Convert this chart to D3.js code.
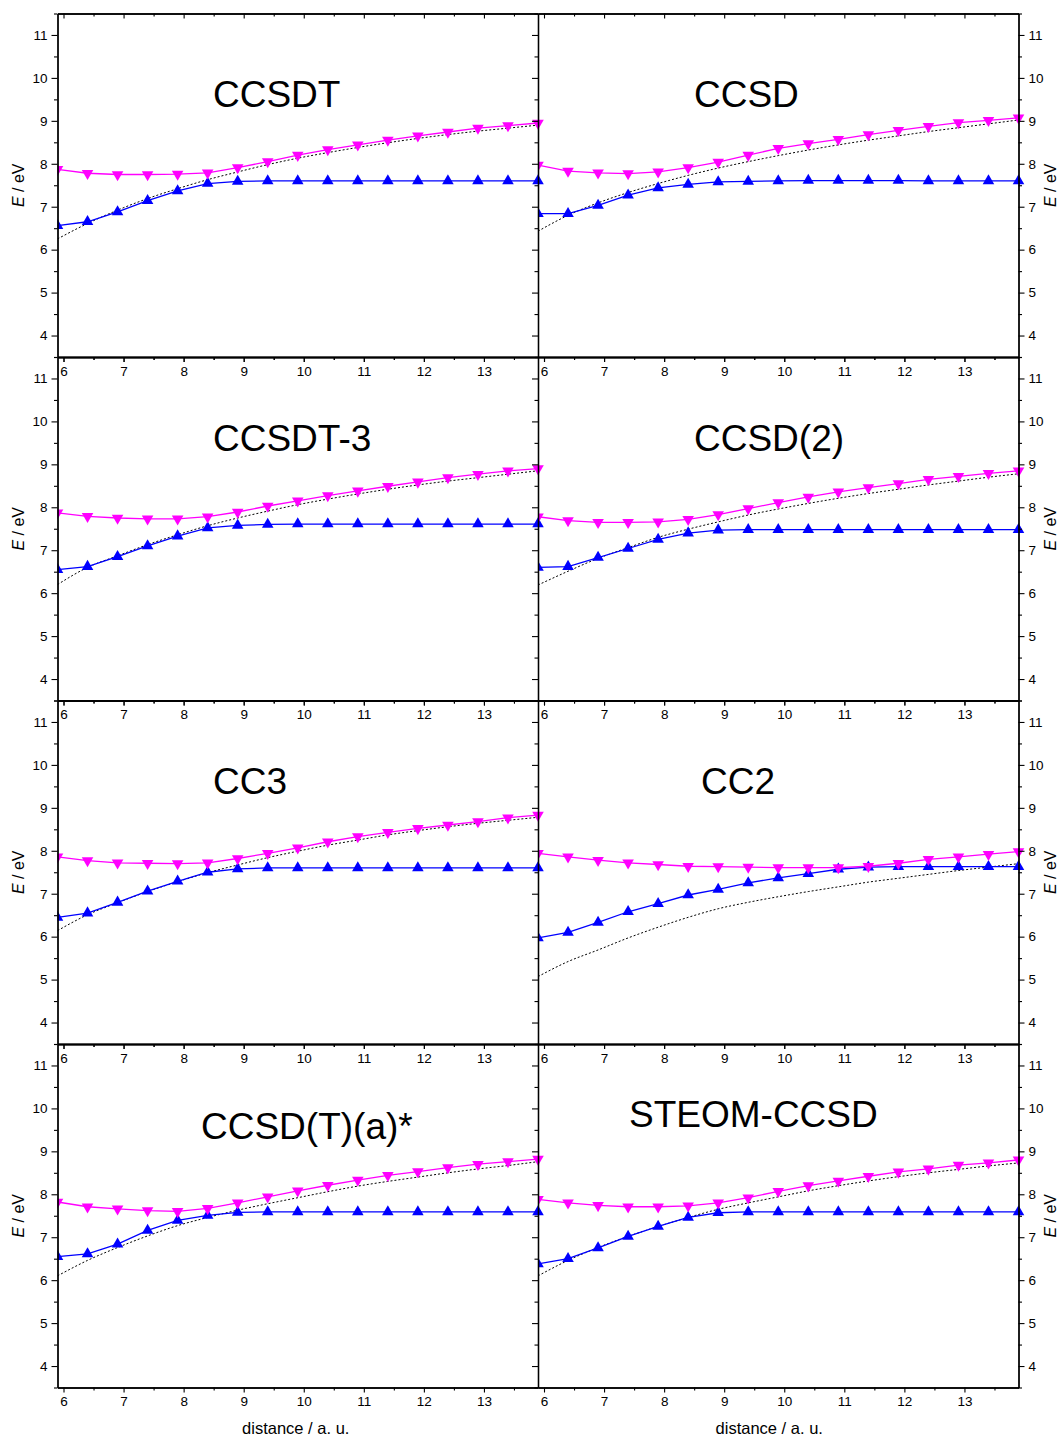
<!DOCTYPE html>
<html>
<head>
<meta charset="utf-8">
<script src="https://cdn.jsdelivr.net/npm/d3@7"></script>
<style>
  body { margin: 0; background: #fff; }
  svg { display: block; }
  text { font-family: "Liberation Sans", Arial, sans-serif; fill: #000; }
</style>
</head>
<body>
<svg id="chart" width="1059" height="1438"></svg>
<script>
// Intermolecular distance (a.u.) at which every method was evaluated
const distance = [5.9, 6.4, 6.9, 7.4, 7.9, 8.4, 8.9, 9.4, 9.9, 10.4, 10.9, 11.4, 11.9, 12.4, 12.9, 13.4, 13.9];

// Methods, one panel each (row-major, two columns)
const methods = ["CCSDT", "CCSD", "CCSDT-3", "CCSD(2)", "CC3", "CC2", "CCSD(T)(a)*", "STEOM-CCSD"];

// Local excitation (blue, ▲), eV
const localState = [
  [6.56, 6.65, 6.88, 7.14, 7.37, 7.54, 7.59, 7.60, 7.60, 7.60, 7.60, 7.60, 7.60, 7.60, 7.60, 7.60, 7.60],
  [6.84, 6.84, 7.03, 7.27, 7.44, 7.52, 7.58, 7.59, 7.60, 7.61, 7.61, 7.61, 7.61, 7.60, 7.60, 7.60, 7.60],
  [6.55, 6.62, 6.85, 7.10, 7.33, 7.52, 7.58, 7.60, 7.61, 7.61, 7.61, 7.61, 7.61, 7.61, 7.61, 7.61, 7.61],
  [6.60, 6.62, 6.83, 7.04, 7.25, 7.40, 7.47, 7.48, 7.48, 7.48, 7.48, 7.48, 7.48, 7.48, 7.48, 7.48, 7.48],
  [6.45, 6.55, 6.80, 7.06, 7.29, 7.50, 7.58, 7.60, 7.60, 7.60, 7.60, 7.60, 7.60, 7.60, 7.60, 7.60, 7.60],
  [5.97, 6.10, 6.33, 6.58, 6.77, 6.97, 7.10, 7.25, 7.37, 7.47, 7.57, 7.62, 7.63, 7.63, 7.63, 7.63, 7.63],
  [6.55, 6.61, 6.84, 7.16, 7.39, 7.51, 7.58, 7.59, 7.59, 7.59, 7.59, 7.59, 7.59, 7.59, 7.59, 7.59, 7.59],
  [6.38, 6.50, 6.75, 7.02, 7.25, 7.46, 7.57, 7.59, 7.59, 7.59, 7.59, 7.59, 7.59, 7.59, 7.59, 7.59, 7.59]
];

// Charge-transfer excitation (magenta, ▼), eV
const ctState = [
  [7.87, 7.78, 7.75, 7.75, 7.76, 7.79, 7.91, 8.05, 8.20, 8.33, 8.44, 8.55, 8.65, 8.74, 8.83, 8.89, 8.95],
  [7.97, 7.83, 7.79, 7.77, 7.81, 7.91, 8.04, 8.20, 8.36, 8.47, 8.57, 8.68, 8.78, 8.87, 8.96, 9.01, 9.07],
  [7.87, 7.79, 7.75, 7.73, 7.73, 7.78, 7.89, 8.03, 8.15, 8.27, 8.38, 8.49, 8.59, 8.69, 8.77, 8.85, 8.90],
  [7.78, 7.69, 7.65, 7.65, 7.66, 7.72, 7.83, 7.97, 8.11, 8.24, 8.36, 8.46, 8.55, 8.65, 8.72, 8.79, 8.85],
  [7.86, 7.77, 7.72, 7.71, 7.70, 7.72, 7.82, 7.94, 8.07, 8.21, 8.33, 8.43, 8.52, 8.60, 8.68, 8.77, 8.83],
  [7.94, 7.86, 7.78, 7.72, 7.68, 7.64, 7.63, 7.62, 7.61, 7.61, 7.61, 7.64, 7.71, 7.80, 7.86, 7.92, 7.98],
  [7.82, 7.71, 7.66, 7.62, 7.60, 7.67, 7.80, 7.94, 8.08, 8.21, 8.33, 8.44, 8.53, 8.62, 8.70, 8.76, 8.82],
  [7.88, 7.80, 7.74, 7.71, 7.71, 7.73, 7.80, 7.92, 8.07, 8.20, 8.31, 8.42, 8.52, 8.59, 8.68, 8.73, 8.80]
];

// Model charge-transfer curve (black dotted), eV
const ctModel = [
  [6.25, 6.61, 6.92, 7.19, 7.42, 7.63, 7.81, 7.98, 8.13, 8.26, 8.38, 8.49, 8.59, 8.68, 8.76, 8.83, 8.90],
  [6.43, 6.80, 7.09, 7.33, 7.54, 7.73, 7.90, 8.05, 8.19, 8.32, 8.44, 8.55, 8.65, 8.75, 8.84, 8.93, 9.02],
  [6.20, 6.60, 6.87, 7.13, 7.36, 7.57, 7.75, 7.91, 8.06, 8.19, 8.31, 8.42, 8.52, 8.61, 8.69, 8.77, 8.85],
  [6.19, 6.51, 6.81, 7.06, 7.30, 7.49, 7.66, 7.82, 7.96, 8.09, 8.21, 8.32, 8.42, 8.52, 8.61, 8.70, 8.78],
  [6.14, 6.51, 6.79, 7.05, 7.28, 7.49, 7.67, 7.84, 7.99, 8.13, 8.25, 8.37, 8.47, 8.56, 8.64, 8.71, 8.78],
  [5.07, 5.42, 5.69, 5.97, 6.22, 6.45, 6.65, 6.80, 6.93, 7.05, 7.16, 7.27, 7.36, 7.45, 7.54, 7.62, 7.70],
  [6.10, 6.46, 6.76, 7.03, 7.27, 7.46, 7.63, 7.78, 7.92, 8.06, 8.19, 8.30, 8.40, 8.50, 8.59, 8.67, 8.76],
  [6.10, 6.46, 6.76, 7.02, 7.25, 7.46, 7.65, 7.80, 7.94, 8.08, 8.20, 8.31, 8.41, 8.50, 8.58, 8.66, 8.73]
];

// Axis ticks
const xMajor = [6, 7, 8, 9, 10, 11, 12, 13];
const xMinor = [6.5, 7.5, 8.5, 9.5, 10.5, 11.5, 12.5, 13.5];
const yMajor = [4, 5, 6, 7, 8, 9, 10, 11];
const yMinor = [3.5, 4.5, 5.5, 6.5, 7.5, 8.5, 9.5, 10.5, 11.5];
const xDomain = [5.9, 13.9];
const yDomain = [3.5, 11.5];

// ---- layout ----
const colLeft = [57.5, 538];
const panelW = 480.5;
const rowTop = 13.5;
const panelH = 343.5;
// title anchor (left x, baseline y) inside each panel, in pixels
const titlePos = [
  [155.5, 93.5], [156, 93.5],
  [155.5, 93.5], [156, 93.5],
  [155.5, 93.5], [163, 93.5],
  [143.5, 94.5], [91, 82.5]
];

const svg = d3.select("#chart");
const x = d3.scaleLinear().domain(xDomain).range([0, panelW]);
const y = d3.scaleLinear().domain(yDomain).range([panelH, 0]);

const BLUE = "#0000ff", MAGENTA = "#ff00ff";
const triUp = d3.symbol().type(d3.symbolTriangle).size(58);
const LABEL_SIZE = 13.5;

function styleAxis(g) {
  g.select(".domain").attr("stroke", "#000").attr("stroke-width", 1.3);
  g.selectAll(".tick line").attr("stroke", "#000").attr("stroke-width", 1.1);
  g.selectAll(".tick text").attr("font-size", LABEL_SIZE).attr("fill", "#000")
    .attr("font-family", "'Liberation Sans', Arial, sans-serif");
}

methods.forEach((name, i) => {
  const col = i % 2, row = Math.floor(i / 2);
  const left = colLeft[col], top = rowTop + row * panelH;
  const g = svg.append("g").attr("transform", `translate(${left},${top})`);

  const clipId = "clip" + i;
  g.append("clipPath").attr("id", clipId)
    .append("rect").attr("x", 0).attr("y", 0).attr("width", panelW + 8).attr("height", panelH);

  const plot = g.append("g").attr("clip-path", `url(#${clipId})`);
  const pts = (vals) => distance.map((d, k) => [d, vals[k]]);

  // dotted model curve
  plot.append("path")
    .datum(pts(ctModel[i]))
    .attr("fill", "none").attr("stroke", "#000").attr("stroke-width", 1)
    .attr("stroke-dasharray", "2,2")
    .attr("d", d3.line().x(d => x(d[0])).y(d => y(d[1])).curve(d3.curveMonotoneX));

  // series lines + markers
  const series = [
    { vals: localState[i], color: BLUE, rot: 0 },
    { vals: ctState[i], color: MAGENTA, rot: 180 }
  ];
  series.forEach(s => {
    plot.append("path")
      .datum(pts(s.vals))
      .attr("fill", "none").attr("stroke", s.color).attr("stroke-width", 1.3)
      .attr("d", d3.line().x(d => x(d[0])).y(d => y(d[1])));
    plot.selectAll(null).data(pts(s.vals)).join("path")
      .attr("d", triUp)
      .attr("fill", s.color)
      .attr("transform", d => `translate(${x(d[0])},${y(d[1])}) rotate(${s.rot})`);
  });

  // bottom axis: labelled majors, minors
  const bMaj = g.append("g").attr("transform", `translate(0,${panelH})`)
    .call(d3.axisBottom(x).tickValues(xMajor).tickSize(5).tickSizeOuter(0).tickPadding(4).tickFormat(d3.format("d")));
  styleAxis(bMaj);
  const bMin = g.append("g").attr("transform", `translate(0,${panelH})`)
    .call(d3.axisBottom(x).tickValues(xMinor).tickSize(3).tickSizeOuter(0).tickFormat(""));
  styleAxis(bMin);

  // top axis: inward ticks
  const tMaj = g.append("g").call(d3.axisBottom(x).tickValues(xMajor).tickSize(5).tickSizeOuter(0).tickFormat(""));
  styleAxis(tMaj);
  const tMin = g.append("g").call(d3.axisBottom(x).tickValues(xMinor).tickSize(3).tickSizeOuter(0).tickFormat(""));
  styleAxis(tMin);

  // left axis
  const lMaj = g.append("g")
    .call(d3.axisLeft(y).tickValues(yMajor).tickSize(6).tickSizeOuter(0).tickPadding(4)
      .tickFormat(col === 0 ? d3.format("d") : ""));
  styleAxis(lMaj);
  const lMin = g.append("g").call(d3.axisLeft(y).tickValues(yMinor).tickSize(3.5).tickSizeOuter(0).tickFormat(""));
  styleAxis(lMin);

  // right axis on the right column
  if (col === 1) {
    const rMaj = g.append("g").attr("transform", `translate(${panelW},0)`)
      .call(d3.axisRight(y).tickValues(yMajor).tickSize(6).tickSizeOuter(0).tickPadding(4).tickFormat(d3.format("d")));
    styleAxis(rMaj);
    const rMin = g.append("g").attr("transform", `translate(${panelW},0)`)
      .call(d3.axisRight(y).tickValues(yMinor).tickSize(3.5).tickSizeOuter(0).tickFormat(""));
    styleAxis(rMin);
  }

  // method name
  g.append("text")
    .attr("x", titlePos[i][0]).attr("y", titlePos[i][1])
    .attr("font-size", 37)
    .text(name);

  // y axis title
  const yt = svg.append("text")
    .attr("transform", `translate(${col === 0 ? 24 : 1056},${top + panelH / 2}) rotate(-90)`)
    .attr("text-anchor", "middle").attr("font-size", 16);
  yt.append("tspan").attr("font-style", "italic").text("E");
  yt.append("tspan").text(" / eV");

  // x axis title under the bottom row
  if (row === 3) {
    svg.append("text")
      .attr("x", left + panelW / 2 + (col === 0 ? -2 : -9)).attr("y", 1434)
      .attr("text-anchor", "middle").attr("font-size", 16.5)
      .text("distance / a. u.");
  }
});
</script>
</body>
</html>
